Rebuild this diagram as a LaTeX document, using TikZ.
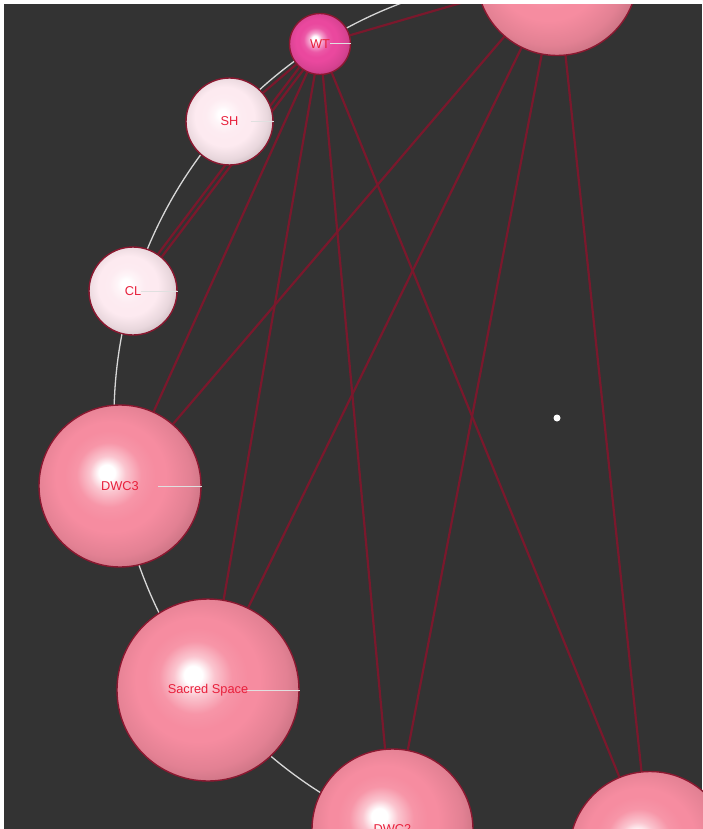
\documentclass[tikz,border=0pt]{standalone}
\usepackage{fontspec}
\setmainfont{Liberation Sans}
\pgfdeclarelayer{bg}
\pgfdeclarelayer{links}
\pgfdeclarelayer{fg}
\pgfsetlayers{bg,links,main,fg}
\definecolor{canvas}{HTML}{333333}
\definecolor{linkred}{HTML}{7A182C}
\definecolor{rimred}{HTML}{8A1830}
\definecolor{labred}{HTML}{E8203C}
\definecolor{ringgray}{HTML}{D8D8D8}
\definecolor{rose}{HTML}{F68CA0}
\definecolor{blush}{HTML}{FDEAF0}
\definecolor{magent}{HTML}{EA489E}
\colorlet{sphcol}{rose}
% glossy sphere: small highlight up and to the left, darker towards lower right
\pgfdeclareradialshading[sphcol]{sphere}{\pgfpoint{-4.3bp}{4.3bp}}{%
  color(0bp)=(white); color(2.5bp)=(white); color(5.5bp)=(sphcol!50!white);
  color(10bp)=(sphcol!92!white); color(14bp)=(sphcol); color(17bp)=(sphcol);
  color(24bp)=(sphcol!92!black); color(30bp)=(sphcol!78!black); color(50bp)=(sphcol!72!black)}
\tikzset{
  sph/.style={circle, inner sep=0pt, minimum size=#1, draw=rimred, line width=1.4pt,
    shading=sphere, text=labred, font=\fontsize{12.8}{13}\selectfont},
  tint/.code={\colorlet{sphcol}{#1}},
  link/.style={draw=linkred, line width=2.2pt},
  ring/.style={draw=ringgray, line width=1.3pt},
  leader/.style={draw=white!88!black, line width=1pt},
}
\begin{document}
\begin{tikzpicture}[x=1pt, y=-1pt]
\useasboundingbox (0,0) rectangle (702,829);
\begin{pgfonlayer}{bg}
  \fill[canvas] (0,0) rectangle (702,829);
\end{pgfonlayer}

% spheres
\node[sph=61pt,  tint=magent] (wt)     at (320,44)      {WT};
\node[sph=87pt,  tint=blush]  (sh)     at (229.5,121.5) {SH};
\node[sph=88pt,  tint=blush]  (cl)     at (133,291)     {CL};
\node[sph=162pt, tint=rose]   (dwc3)   at (120,486)     {DWC3};
\node[sph=182pt, tint=rose]   (sacred) at (208,690)     {Sacred Space};
\node[sph=161pt, tint=rose]   (dwc2)   at (392.5,829.5) {DWC2};
\node[sph=161pt, tint=rose]   (top)    at (557,-25)     {};
\node[sph=161pt, tint=rose]   (br)     at (650,852)     {};
\node[circle, fill=white, inner sep=0pt, minimum size=7pt] (hub) at (557,418) {};

% label leaders
\draw[leader] ([xshift=10pt]wt.center)     -- (wt.east);
\draw[leader] ([xshift=21pt]sh.center)     -- (sh.east);
\draw[leader] ([xshift=8pt]cl.center)      -- (cl.east);
\draw[leader] ([xshift=38pt]dwc3.center)   -- (dwc3.east);
\draw[leader] ([xshift=39pt]sacred.center) -- (sacred.east);
\draw[leader] ([xshift=38pt]dwc2.center)   -- (dwc2.east);

\begin{pgfonlayer}{links}
  \draw[ring] (hub.center) circle[radius=443pt];
  \draw[link] (wt) -- (top);
  \draw[link] (wt) -- (sh);
  \draw[link, transform canvas={shift={(1.9,1.4)}}] (wt) -- (cl);
  \draw[link, transform canvas={shift={(-1.9,-1.4)}}] (wt) -- (cl);
  \draw[link] (wt) -- (dwc3);
  \draw[link] (wt) -- (sacred);
  \draw[link] (wt) -- (dwc2);
  \draw[link] (wt) -- (br);
  \draw[link] (top) -- (dwc3);
  \draw[link] (top) -- (sacred);
  \draw[link] (top) -- (dwc2);
  \draw[link] (top) -- (br);
\end{pgfonlayer}

\begin{pgfonlayer}{fg}
  \fill[white] (0,0) rectangle (702,4);
  \fill[white] (0,0) rectangle (4,829);
\end{pgfonlayer}
\end{tikzpicture}
\end{document}
